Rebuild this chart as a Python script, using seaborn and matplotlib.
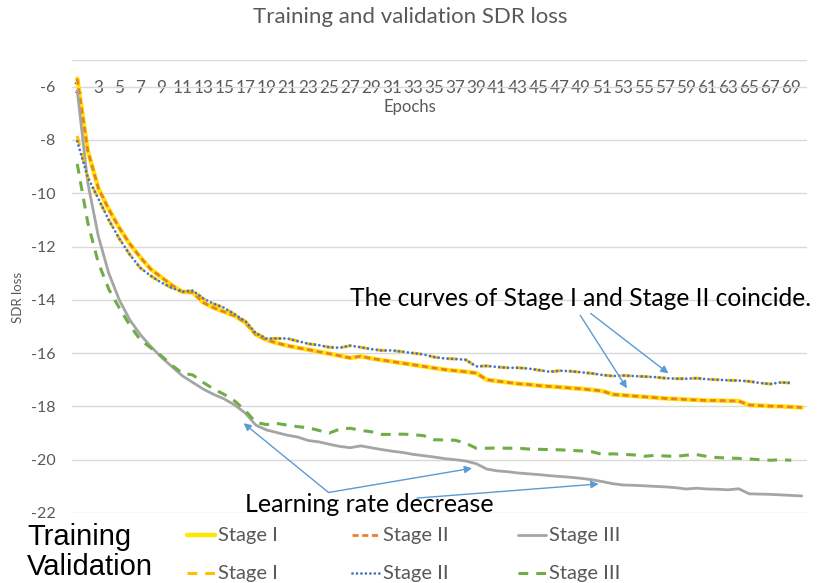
import matplotlib
matplotlib.use("Agg")
import matplotlib.pyplot as plt
import seaborn as sns
from matplotlib.lines import Line2D

# ---------------- data ----------------
train_epochs = list(range(1, 71))
val_epochs = list(range(1, 70))

train_stage1 = [-5.7, -8.4, -9.8, -10.6, -11.3, -11.9, -12.4, -12.85, -13.15, -13.45,
                -13.7, -13.72, -14.1, -14.3, -14.45, -14.6, -14.85, -15.3, -15.5, -15.62,
                -15.72, -15.8, -15.87, -15.95, -16.02, -16.1, -16.18, -16.12, -16.2, -16.26,
                -16.32, -16.38, -16.44, -16.5, -16.56, -16.62, -16.66, -16.7, -16.75, -17.0,
                -17.05, -17.1, -17.15, -17.18, -17.22, -17.25, -17.28, -17.31, -17.34, -17.38,
                -17.42, -17.55, -17.58, -17.61, -17.64, -17.67, -17.7, -17.72, -17.74, -17.76,
                -17.78, -17.78, -17.79, -17.8, -17.95, -17.97, -17.99, -18.0, -18.02, -18.04]
train_stage2 = [-5.7, -8.4, -9.8, -10.6, -11.3, -11.9, -12.4, -12.85, -13.15, -13.45,
                -13.7, -13.72, -14.1, -14.3, -14.45, -14.6, -14.85, -15.3, -15.5, -15.62,
                -15.72, -15.8, -15.87, -15.95, -16.02, -16.1, -16.18, -16.12, -16.2, -16.26,
                -16.32, -16.38, -16.44, -16.5, -16.56, -16.62, -16.66, -16.7, -16.75, -17.0,
                -17.05, -17.1, -17.15, -17.18, -17.22, -17.25, -17.28, -17.31, -17.34, -17.38,
                -17.42, -17.55, -17.58, -17.61, -17.64, -17.67, -17.7, -17.72, -17.74, -17.76,
                -17.78, -17.78, -17.79, -17.8, -17.95, -17.97, -17.99, -18.0, -18.02, -18.04]
train_stage3 = [-6.15, -9.6, -11.6, -13.0, -14.0, -14.75, -15.3, -15.75, -16.15, -16.5,
                -16.85, -17.1, -17.35, -17.55, -17.72, -17.95, -18.25, -18.7, -18.88, -18.98,
                -19.08, -19.15, -19.28, -19.33, -19.42, -19.5, -19.55, -19.48, -19.55, -19.62,
                -19.68, -19.73, -19.8, -19.85, -19.9, -19.96, -20.0, -20.05, -20.15, -20.35,
                -20.42, -20.45, -20.5, -20.53, -20.56, -20.6, -20.63, -20.66, -20.7, -20.75,
                -20.82, -20.9, -20.95, -20.96, -20.98, -21.0, -21.02, -21.05, -21.1, -21.07,
                -21.1, -21.11, -21.13, -21.09, -21.28, -21.29, -21.3, -21.32, -21.34, -21.36]
val_stage1 = [-7.85, -9.4, -10.2, -11.0, -11.7, -12.3, -12.8, -13.1, -13.35, -13.55,
              -13.7, -13.65, -13.95, -14.15, -14.3, -14.55, -14.8, -15.25, -15.45, -15.45,
              -15.45, -15.55, -15.65, -15.7, -15.78, -15.8, -15.72, -15.78, -15.85, -15.9,
              -15.9, -15.95, -16.0, -16.05, -16.15, -16.2, -16.22, -16.25, -16.5, -16.48,
              -16.52, -16.55, -16.55, -16.58, -16.64, -16.7, -16.66, -16.68, -16.72, -16.76,
              -16.82, -16.86, -16.84, -16.86, -16.88, -16.9, -16.94, -16.96, -16.96, -16.94,
              -16.98, -17.0, -17.02, -17.03, -17.06, -17.12, -17.16, -17.1, -17.12]
val_stage2 = [-8.05, -9.4, -10.2, -11.0, -11.7, -12.3, -12.8, -13.1, -13.35, -13.55,
              -13.7, -13.65, -13.95, -14.15, -14.3, -14.55, -14.8, -15.25, -15.45, -15.45,
              -15.45, -15.55, -15.65, -15.7, -15.78, -15.8, -15.72, -15.78, -15.85, -15.9,
              -15.9, -15.95, -16.0, -16.05, -16.15, -16.2, -16.22, -16.25, -16.5, -16.48,
              -16.52, -16.55, -16.55, -16.58, -16.64, -16.7, -16.66, -16.68, -16.72, -16.76,
              -16.82, -16.86, -16.84, -16.86, -16.88, -16.9, -16.94, -16.96, -16.96, -16.94,
              -16.98, -17.0, -17.02, -17.03, -17.06, -17.12, -17.16, -17.1, -17.12]
val_stage3 = [-8.9, -11.1, -12.6, -13.6, -14.3, -14.95, -15.5, -15.8, -16.1, -16.45,
              -16.75, -16.82, -17.1, -17.35, -17.55, -17.8, -18.15, -18.6, -18.68, -18.64,
              -18.7, -18.76, -18.8, -18.9, -19.0, -18.85, -18.82, -18.9, -18.95, -19.05,
              -19.05, -19.04, -19.06, -19.1, -19.25, -19.26, -19.27, -19.38, -19.57, -19.57,
              -19.56, -19.57, -19.57, -19.6, -19.61, -19.62, -19.63, -19.65, -19.67, -19.7,
              -19.8, -19.78, -19.8, -19.82, -19.87, -19.84, -19.86, -19.88, -19.83, -19.81,
              -19.88, -19.92, -19.94, -19.95, -19.97, -20.0, -20.02, -20.0, -20.02]

x_ticks = [1, 3, 5, 7, 9, 11, 13, 15, 17, 19, 21, 23, 25, 27, 29, 31, 33, 35, 37, 39,
           41, 43, 45, 47, 49, 51, 53, 55, 57, 59, 61, 63, 65, 67, 69]
y_ticks = [-22, -20, -18, -16, -14, -12, -10, -8, -6]
legend_labels = ["Stage I", "Stage II", "Stage III"]

# ---------------- style ----------------
sns.set_style("white")
plt.rcParams["font.family"] = ["Lato", "DejaVu Sans"]
GREY_TXT = "#595959"
GRID = "#D9D9D9"
ARROW = "#5B9BD5"

W, H = 819, 583
fig = plt.figure(figsize=(W / 100, H / 100), dpi=100)
ax = fig.add_axes([72 / W, 1 - 513 / H, 735 / W, (513 - 60) / H])

styles = {
    "t1": dict(color="#FFE600", linewidth=3.2, linestyle="-"),
    "t2": dict(color="#ED7D31", linewidth=2.0, linestyle=(0, (2.2, 1.3))),
    "t3": dict(color="#A5A5A5", linewidth=2.0, linestyle="-"),
    "v1": dict(color="#FFC000", linewidth=2.2, linestyle=(0, (3.2, 2.6))),
    "v2": dict(color="#4472C4", linewidth=2.0, linestyle=(0, (0.01, 1.6)),
               dash_capstyle="round"),
    "v3": dict(color="#70AD47", linewidth=2.2, linestyle=(0, (3.2, 2.6))),
}

sns.lineplot(x=train_epochs, y=train_stage1, ax=ax, **styles["t1"])
sns.lineplot(x=train_epochs, y=train_stage2, ax=ax, **styles["t2"])
sns.lineplot(x=train_epochs, y=train_stage3, ax=ax, **styles["t3"])
sns.lineplot(x=val_epochs, y=val_stage1, ax=ax, **styles["v1"])
sns.lineplot(x=val_epochs, y=val_stage2, ax=ax, **styles["v2"])
sns.lineplot(x=val_epochs, y=val_stage3, ax=ax, **styles["v3"])

ax.set_xlim(0.5, 70.5)
ax.set_ylim(-22, -5)
ax.set_yticks(y_ticks)
ax.set_yticklabels([str(v) for v in y_ticks])
ax.yaxis.grid(True, color=GRID, linewidth=1)
ax.xaxis.grid(False)
ax.axhline(-5, color=GRID, linewidth=1, zorder=0)
ax.set_axisbelow(True)
for s in ax.spines.values():
    s.set_visible(False)

ax.xaxis.tick_top()
ax.spines["top"].set_position(("data", -6))
ax.set_xticks(x_ticks)
ax.set_xticklabels([str(v) for v in x_ticks])
ax.tick_params(axis="x", length=0, pad=-7, labelsize=12.3, colors=GREY_TXT)
ax.tick_params(axis="y", length=0, pad=12, labelsize=11.5, colors=GREY_TXT)
ax.set_xlabel("")
ax.set_ylabel("")

# axis titles & chart title
fig.text(410 / W, 1 - 17 / H, "Training and validation SDR loss", ha="center",
         va="center", fontsize=16, color=GREY_TXT)
fig.text(410 / W, 1 - 107 / H, "Epochs", ha="center", va="center",
         fontsize=12, color=GREY_TXT)
fig.text(18 / W, 1 - 297 / H, "SDR loss", ha="center", va="center", rotation=90,
         fontsize=9.5, color=GREY_TXT)

# annotations
fig.text(350 / W, 1 - 298 / H, "The curves of Stage I and Stage II coincide.",
         ha="left", va="center", fontsize=17.7, color="black")
fig.text(245 / W, 1 - 505 / H, "Learning rate decrease",
         ha="left", va="center", fontsize=18, color="black")

arrow_kw = dict(arrowstyle="-|>", color=ARROW, lw=1.0, mutation_scale=11,
                shrinkA=0, shrinkB=0)
ax.annotate("", xy=(53.35, -17.32), xytext=(48.9, -14.58), arrowprops=arrow_kw,
            annotation_clip=False)
ax.annotate("", xy=(57.3, -16.76), xytext=(49.9, -14.51), arrowprops=arrow_kw,
            annotation_clip=False)
ax.annotate("", xy=(16.84, -18.63), xytext=(24.93, -21.23), arrowprops=arrow_kw,
            annotation_clip=False)
ax.annotate("", xy=(38.6, -20.32), xytext=(24.93, -21.23), arrowprops=arrow_kw,
            annotation_clip=False)
ax.annotate("", xy=(50.65, -20.91), xytext=(33.35, -21.44), arrowprops=arrow_kw,
            annotation_clip=False)

# legend (manual, two rows)
fig.text(27 / W, 1 - 537 / H, "Training", ha="left", va="center", fontsize=21,
         family=["Liberation Sans", "DejaVu Sans"], color="black")
fig.text(27 / W, 1 - 567 / H, "Validation", ha="left", va="center", fontsize=21,
         family=["Liberation Sans", "DejaVu Sans"], color="black")

col_x = [187, 352, 518]
row_y = [535, 573]
row_styles = [["t1", "t2", "t3"], ["v1", "v2", "v3"]]
for r, yy in enumerate(row_y):
    for c, xx in enumerate(col_x):
        st = dict(styles[row_styles[r][c]])
        fig.add_artist(Line2D([xx / W, (xx + 28) / W], [1 - yy / H, 1 - yy / H],
                              transform=fig.transFigure, **st))
        fig.text((xx + 31) / W, 1 - yy / H, legend_labels[c], ha="left", va="center",
                 fontsize=14.5, color=GREY_TXT)

fig.savefig("out.png", dpi=100)
